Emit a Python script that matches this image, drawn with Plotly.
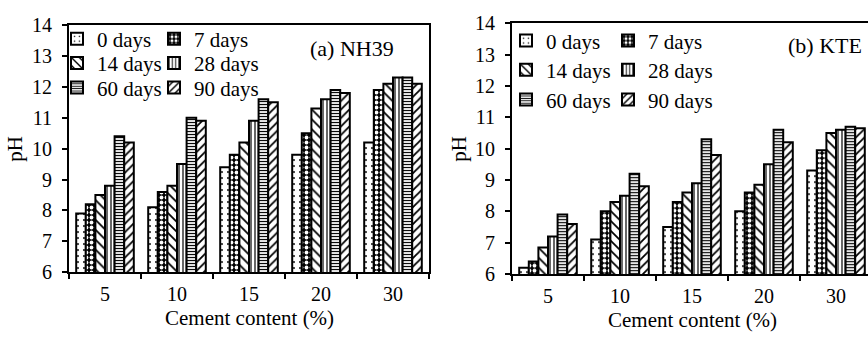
import plotly.graph_objects as go

W, H = 868, 345

categories = ["5", "10", "15", "20", "30"]
series_names = ["0 days", "7 days", "14 days", "28 days", "60 days", "90 days"]

# NH39 (left panel) pH values per curing time, across cement content
nh39_0d = [7.9, 8.1, 9.4, 9.8, 10.2]
nh39_7d = [8.2, 8.6, 9.8, 10.5, 11.9]
nh39_14d = [8.5, 8.8, 10.2, 11.3, 12.1]
nh39_28d = [8.8, 9.5, 10.9, 11.6, 12.3]
nh39_60d = [10.4, 11.0, 11.6, 11.9, 12.3]
nh39_90d = [10.2, 10.9, 11.5, 11.8, 12.1]

# KTE (right panel)
kte_0d = [6.2, 7.1, 7.5, 8.0, 9.3]
kte_7d = [6.4, 8.0, 8.3, 8.6, 9.95]
kte_14d = [6.85, 8.3, 8.6, 8.85, 10.5]
kte_28d = [7.2, 8.5, 8.9, 9.5, 10.6]
kte_60d = [7.9, 9.2, 10.3, 10.6, 10.7]
kte_90d = [7.6, 8.8, 9.8, 10.2, 10.65]

y_ticks = [6, 7, 8, 9, 10, 11, 12, 13, 14]

nh39 = [nh39_0d, nh39_7d, nh39_14d, nh39_28d, nh39_60d, nh39_90d]
kte = [kte_0d, kte_7d, kte_14d, kte_28d, kte_60d, kte_90d]

patterns = [
    dict(shape=".", size=6, solidity=0.08, fgcolor="black", bgcolor="white", fillmode="replace"),
    dict(shape=".", size=5, solidity=0.45, fgcolor="white", bgcolor="black", fillmode="replace"),
    dict(shape="\\", size=7, solidity=0.25, fgcolor="black", bgcolor="white", fillmode="replace"),
    dict(shape="|", size=4, solidity=0.3, fgcolor="black", bgcolor="white", fillmode="replace"),
    dict(shape="-", size=3, solidity=0.4, fgcolor="black", bgcolor="white", fillmode="replace"),
    dict(shape="/", size=6, solidity=0.3, fgcolor="black", bgcolor="white", fillmode="replace"),
]

FONT = "Liberation Serif"
FS_TICK = 20
FS_LEG = 21
FS_TITLE = 21
FS_ANN = 22

def px_x(p):
    return p / W

def px_y(p):
    return 1 - p / H

fig = go.Figure()

left_cols = [57, 154]
left_rows = [30, 56, 82]
right_cols = [506, 608]
right_rows = [32, 63, 95]

legends = {}
k = 1
for data, xa, ya, cols, rows in [
    (nh39, "x", "y", left_cols, left_rows),
    (kte, "x2", "y2", right_cols, right_rows),
]:
    for i, (name, vals) in enumerate(zip(series_names, data)):
        lname = "legend" if k == 1 else f"legend{k}"
        col = i % 2
        row = i // 2
        legends[lname] = dict(
            x=px_x(cols[col]), y=px_y(rows[row]), xanchor="left", yanchor="middle",
            bgcolor="rgba(0,0,0,0)", borderwidth=0,
            font=dict(family=FONT, size=FS_LEG, color="black"),
        )
        fig.add_trace(go.Bar(
            x=categories, y=vals, name=name, xaxis=xa, yaxis=ya,
            legend=lname,
            marker=dict(color="white", line=dict(color="black", width=2),
                        pattern=patterns[i]),
        ))
        k += 1

axis_common = dict(
    showline=True, linecolor="black", linewidth=2,
    ticks="outside", ticklen=5, tickwidth=1.5, tickcolor="black",
    showgrid=False, zeroline=False,
    tickfont=dict(family=FONT, size=FS_TICK, color="black"),
)

fig.update_layout(
    width=W, height=H,
    margin=dict(l=0, r=0, t=0, b=0),
    paper_bgcolor="white", plot_bgcolor="white",
    barmode="group", bargap=0.2, bargroupgap=0,
    showlegend=True,
    xaxis=dict(domain=[px_x(69), px_x(429)], anchor="y", type="category",
               range=[-0.5, 4.5], tickson="boundaries", mirror=True,
               ticklabelstandoff=3, **axis_common),
    yaxis=dict(domain=[px_y(279), px_y(15)], anchor="x", range=[6, 14],
               tickvals=y_ticks, mirror=True, ticklabelstandoff=6, **axis_common),
    xaxis2=dict(domain=[px_x(512), 1.0], anchor="y2", type="category",
                range=[-0.5, 4.5 - 4 / 72], tickson="boundaries", mirror=True,
                ticklabelstandoff=3, **axis_common),
    yaxis2=dict(domain=[px_y(281), px_y(13)], anchor="x2", range=[6, 14],
                tickvals=y_ticks, mirror=False, ticklabelstandoff=6, **axis_common),
    **legends,
)

ann_font = dict(family=FONT, size=FS_ANN, color="black")
title_font = dict(family=FONT, size=FS_TITLE, color="black")
fig.add_annotation(text="(a) NH39", x=px_x(352), y=px_y(40), xref="paper", yref="paper",
                   showarrow=False, font=ann_font, xanchor="center", yanchor="middle")
fig.add_annotation(text="(b) KTE", x=px_x(825), y=px_y(37), xref="paper", yref="paper",
                   showarrow=False, font=ann_font, xanchor="center", yanchor="middle")
fig.add_annotation(text="Cement content (%)", x=px_x(249), y=px_y(328), xref="paper", yref="paper",
                   showarrow=False, font=title_font, xanchor="center", yanchor="middle")
fig.add_annotation(text="Cement content (%)", x=px_x(692), y=px_y(330), xref="paper", yref="paper",
                   showarrow=False, font=title_font, xanchor="center", yanchor="middle")
fig.add_annotation(text="pH", x=px_x(15), y=px_y(147), xref="paper", yref="paper",
                   showarrow=False, font=title_font, textangle=-90, xanchor="center", yanchor="middle")
fig.add_annotation(text="pH", x=px_x(459), y=px_y(147), xref="paper", yref="paper",
                   showarrow=False, font=title_font, textangle=-90, xanchor="center", yanchor="middle")

# remove the default page margin so the figure sits at the window's top-left corner
fig.write_html(
    "out.html",
    config={"displayModeBar": False},
    post_script="document.body.style.margin='0';document.body.style.overflow='hidden';",
)
